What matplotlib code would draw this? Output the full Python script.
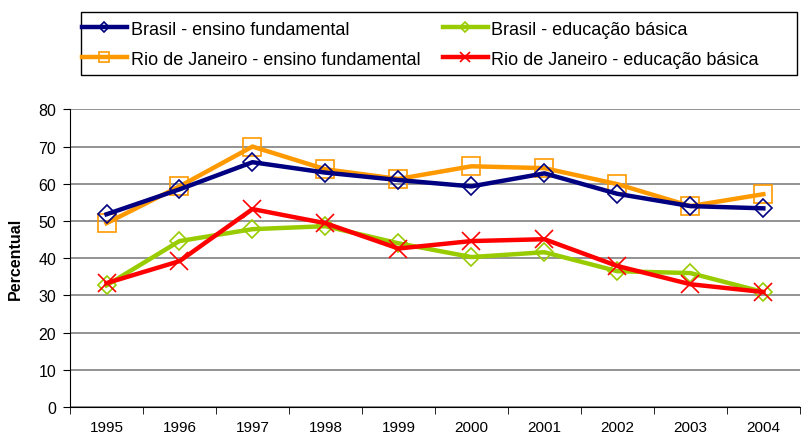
import matplotlib
matplotlib.use("Agg")
import matplotlib.pyplot as plt
from matplotlib.patches import Rectangle
import numpy as np

years = ["1995", "1996", "1997", "1998", "1999", "2000", "2001", "2002", "2003", "2004"]
br_fund = [51.8, 58.5, 65.8, 63.0, 61.0, 59.3, 62.8, 57.3, 54.0, 53.4]
br_basica = [32.7, 44.6, 47.8, 48.6, 44.0, 40.3, 41.6, 36.5, 36.0, 30.9]
rj_fund = [49.4, 59.3, 70.0, 63.9, 61.3, 64.7, 64.2, 59.9, 54.0, 57.2]
rj_basica = [33.3, 39.2, 53.2, 49.4, 42.6, 44.6, 45.1, 37.9, 33.0, 30.9]

plt.rcParams["font.family"] = ["Liberation Sans", "DejaVu Sans"]

fig = plt.figure(figsize=(8.02, 4.39), dpi=100)
ax = fig.add_axes([0.0873, 0.0706, 0.910, 0.678])
x = np.arange(len(years))

ax.plot(x, br_fund, "-D", color="#000080", lw=3.2, ms=9, mfc="none", mec="#000080", mew=1.2,
        label="Brasil - ensino fundamental", zorder=3)
ax.plot(x, rj_fund, "-s", color="#FF9900", lw=3.2, ms=13, mfc="none", mec="#FF9900", mew=1.2,
        label="Rio de Janeiro - ensino fundamental", zorder=2)
ax.plot(x, br_basica, "-D", color="#99CC00", lw=3.2, ms=9, mfc="none", mec="#99CC00", mew=1.2,
        label="Brasil - educação básica", zorder=2)
ax.plot(x, rj_basica, "-x", color="#FF0000", lw=3.2, ms=13, mec="#FF0000", mew=1.2,
        label="Rio de Janeiro - educação básica", zorder=3)

ax.set_xlim(-0.5, len(years) - 0.5)
ax.set_ylim(0, 80)
ax.set_yticks(range(0, 81, 10))
ax.set_xticks(x)
ax.set_xticklabels(years)
ax.set_xticks(np.arange(-0.5, len(years), 1), minor=True)
ax.tick_params(axis="x", which="major", length=0, labelsize=11, pad=9)
ax.tick_params(axis="x", which="minor", length=5, direction="out")
ax.tick_params(axis="y", length=5, direction="out", labelsize=11.5, pad=5)
ax.yaxis.grid(True, color="#808080", lw=1.2)
ax.set_axisbelow(True)
for s in ("top", "right"):
    ax.spines[s].set_visible(False)
ax.set_ylabel("Percentual", fontweight="bold", fontsize=11.5, labelpad=11)

# legend box drawn separately so it can extend past the entries like the original
fig.patches.append(Rectangle((0.101, 0.827), 0.893, 0.1435, transform=fig.transFigure,
                             fill=False, edgecolor="black", lw=1.0))
h, l = ax.get_legend_handles_labels()
leg = fig.legend(h, l, ncol=2, loc="upper left", bbox_to_anchor=(0.102, 0.951),
                 fontsize=13, frameon=False, borderpad=0, borderaxespad=0,
                 handlelength=2.5, handletextpad=0.2, labelspacing=0.72,
                 columnspacing=1.25, markerscale=0.6)

fig.savefig("out.png", dpi=100)
